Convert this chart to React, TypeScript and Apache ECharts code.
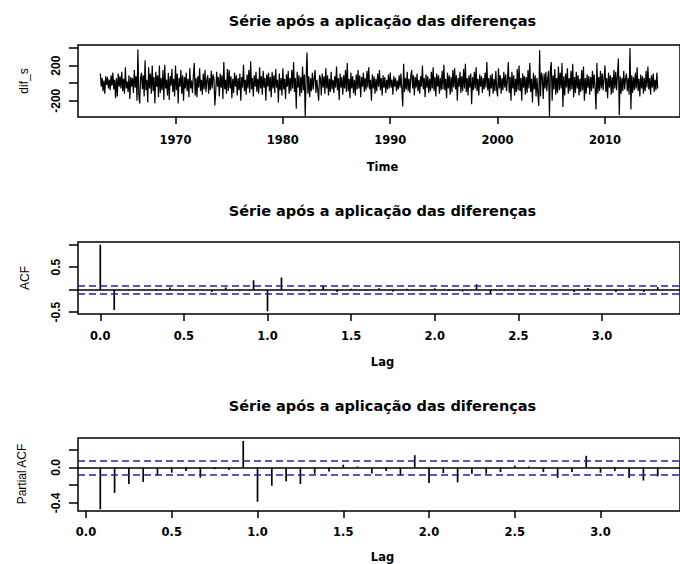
import React, { useEffect, useRef } from "react";
import * as echarts from "echarts";

// ---- Data ----
const seriesStart = 1963; // monthly series, Jan 1963 .. Dec 2014
const difS: number[] = [
  110, -40, 60, -90, 30, -120, 80, -20, 70, -60, 40, -80, // 1963
  90, -30, 120, -70, 40, -170, 60, -150, 110, -40, 80, -60, // 1964
  130, -90, 50, -120, 180, -60, 20, -100, 90, -180, 70, -40, // 1965
  60, -110, 150, -50, 80, -200, 385, -130, -230, 60, 120, -70, // 1966
  90, -150, 260, -80, 40, -220, 180, -60, 110, -120, 200, -90, // 1967
  70, -230, 130, -40, 90, -160, 200, -110, 60, -80, 150, -190, // 1968
  210, -60, 40, -140, 120, -190, 80, -30, 160, -100, 50, -150, // 1969
  200, -80, 110, -230, 60, -40, 150, -120, 90, -200, 70, -60, // 1970
  120, -90, 50, -160, 170, -60, 30, -110, 90, 230, -140, 60, // 1971
  -160, 80, -50, 170, -90, 40, -130, 110, -70, 150, -100, 30, // 1972
  90, -120, 60, -80, 140, -60, 100, 50, -255, -90, 130, -40, // 1973
  70, -150, 110, -50, 90, -180, 240, -70, 40, -120, 160, -90, // 1974
  150, -60, 80, -170, 50, -110, 120, -40, 90, -140, 60, -80, // 1975
  110, -200, 70, -50, 210, -90, 40, -130, 100, -60, 150, -110, // 1976
  250, -70, 60, -150, 90, -40, 130, -100, 50, -120, 180, -60, // 1977
  80, -130, 140, -50, 60, -200, 100, -40, 120, -90, 70, -160, // 1978
  130, -60, 90, -110, 160, -50, 40, -220, 110, -80, 60, -140, // 1979
  170, -70, 50, -180, 100, -40, 140, -120, 60, -90, 150, -60, // 1980
  240, -100, 60, -290, 130, -50, 90, -150, 70, -110, 190, -80, // 1981
  100, -375, 60, 350, -120, 80, -160, 60, -90, 120, -70, 50, // 1982
  150, -110, 40, -80, -200, 90, 60, -140, 110, -50, 80, -120, // 1983
  170, -60, 90, -140, 50, -100, 130, -70, 40, -110, 80, -50, // 1984
  190, -80, 60, -190, 110, -50, 70, -130, 90, -60, 150, -100, // 1985
  230, -90, 50, -170, 120, -60, 80, -110, 40, -140, 100, -70, // 1986
  150, -60, 90, -160, 70, -40, 120, -100, 60, -80, 140, -50, // 1987
  180, -70, 40, -200, 100, -60, 80, -120, 50, -90, 110, -40, // 1988
  150, -80, 60, -140, 90, -50, 70, -110, 40, -70, 100, -60, // 1989
  120, -50, 40, -130, 80, -40, 60, -90, 30, -70, 90, -50, // 1990
  110, -80, -265, 220, -100, 60, -70, 130, -90, 50, -110, 80, // 1991
  150, -60, 90, -140, 70, -50, 110, -90, 40, -120, 80, -40, // 1992
  200, -70, 60, -160, 100, -50, 80, -110, 50, -90, 130, -60, // 1993
  180, -90, 70, -150, 110, -40, 90, -120, 60, -80, 140, -70, // 1994
  210, -80, 50, -170, 120, -60, 90, -130, 70, -100, 150, -50, // 1995
  170, -70, 90, -200, 60, -40, 130, -110, 80, -90, 160, -60, // 1996
  220, -100, 60, -140, 90, -50, 110, -240, 70, -80, 130, -60, // 1997
  180, -90, 50, -140, 100, -40, 80, -110, 60, -70, 120, -50, // 1998
  240, -80, 60, -150, 90, -60, 110, -120, 50, -90, 140, -70, // 1999
  -150, 170, -60, 90, -120, 60, -80, 130, -50, 100, -90, 40, // 2000
  240, -110, 70, -200, 130, -60, 90, -140, 50, -100, 160, -80, // 2001
  200, -90, 60, -200, 110, -50, 80, -130, 70, -110, 150, -60, // 2002
  230, -100, 50, -220, 120, -70, 90, -150, 60, -120, -260, 375, // 2003
  -150, 120, 70, -180, 110, -60, 130, -90, 50, 140, -375, 150, // 2004
  240, -200, 90, -70, 160, -130, 60, -110, 190, -80, 120, -60, // 2005
  230, -270, 80, -140, 110, -50, 170, -120, 60, -90, 140, -70, // 2006
  220, -160, 70, -110, 130, -60, 90, -140, 50, -100, 150, -80, // 2007
  190, -200, 60, -120, 100, -50, 80, -130, 70, -90, 140, -60, // 2008
  100, -60, -300, 230, -120, 70, -90, 140, -60, 110, -80, 50, // 2009
  200, -100, 60, -170, 120, -50, 90, -130, 70, -110, 150, -60, // 2010
  130, -80, 90, 280, -365, 80, -120, 60, -90, 140, -70, 50, // 2011
  110, -90, 60, -130, 400, -300, 90, -110, 70, -80, 120, -60, // 2012
  180, -90, 50, -150, 100, -60, 80, -120, 60, -90, 140, -50, // 2013
  190, -70, 60, -130, 90, -50, 110, -100, 40, -80, 120, -60, // 2014
];

// ACF at lags 0..40 (months; plotted in years = k/12)
const acfValues: number[] = [
  1.0, -0.45, -0.01, 0.0, -0.02, 0.05, -0.01, 0.01, -0.05, 0.05, -0.02, 0.21,
  -0.48, 0.27, 0.0, -0.04, 0.1, -0.05, 0.02, -0.01, 0.03, -0.04, 0.02, -0.02,
  0.03, -0.02, -0.04, 0.12, -0.1, -0.02, 0.02, -0.02, 0.01, -0.01, -0.05, 0.04,
  -0.02, -0.05, 0.03, -0.05, 0.06,
];
// PACF at lags 1..40
const pacfValues: number[] = [
  -0.47, -0.286, -0.187, -0.164, -0.09, -0.06, -0.04, -0.114, -0.02, -0.03,
  0.297, -0.385, -0.206, -0.156, -0.187, -0.072, -0.046, 0.03, 0.01, -0.07,
  -0.04, -0.09, 0.137, -0.175, -0.065, -0.168, -0.072, -0.072, -0.053, 0.02,
  0.01, -0.053, -0.118, -0.053, 0.13, -0.06, -0.04, -0.118, -0.148, -0.1,
];
const confLimit = 0.0785;

const timeTicks = [1970, 1980, 1990, 2000, 2010];
const lagTicks = [0, 0.5, 1.0, 1.5, 2.0, 2.5, 3.0];
const tsYTicks = [-200, 0, 200, 400];
const tsYLabels = [-200, 200];
const acfYTicks = [-0.5, 0, 0.5, 1.0];
const acfYLabels = [-0.5, 0.5];
const pacfYTicks = [-0.4, -0.2, 0, 0.2];
const pacfYLabels = [-0.4, 0];

const titleText = "Série após a aplicação das diferenças";

const WIDE = "'DejaVu Sans', sans-serif";
const ARIAL = "'Liberation Sans', Arial, sans-serif";
const BLUE = "#2020a8";

export default function App() {
  const ref = useRef<HTMLDivElement>(null);

  useEffect(() => {
    if (!ref.current) return;
    const chart = echarts.init(ref.current, null, { renderer: "svg" });

    const tsData = difS.map((v, i) => [seriesStart + i / 12, v]);
    const acfData = acfValues.map((v, k) => [k / 12, v]);
    const pacfData = pacfValues.map((v, k) => [(k + 1) / 12, v]);

    const gridCommon = {
      show: true,
      borderColor: "#000",
      borderWidth: 1.5,
      backgroundColor: "transparent",
      containLabel: false,
    };

    const xAxisOf = (gridIndex: number, min: number, max: number, ticks: number[], margin: number, fmt: (v: number) => string) => ({
      type: "value",
      gridIndex,
      min,
      max,
      axisLine: { show: false, onZero: false },
      splitLine: { show: false },
      axisTick: { show: true, length: 7, customValues: ticks, lineStyle: { color: "#000", width: 1.5 } },
      axisLabel: {
        show: true,
        customValues: ticks,
        margin,
        color: "#000",
        fontFamily: WIDE,
        fontWeight: "bold",
        fontSize: 11.5,
        formatter: fmt,
      },
    });

    const yAxisOf = (gridIndex: number, min: number, max: number, ticks: number[], labels: number[], fmt: (v: number) => string) => ({
      type: "value",
      gridIndex,
      min,
      max,
      axisLine: { show: false, onZero: false },
      splitLine: { show: false },
      axisTick: { show: true, length: 9, customValues: ticks, lineStyle: { color: "#000", width: 1.5 } },
      axisLabel: {
        show: true,
        customValues: labels,
        rotate: 90,
        margin: 16,
        color: "#000",
        fontFamily: ARIAL,
        fontWeight: "bold",
        fontSize: 12,
        formatter: fmt,
      },
    });

    const stemRender = (params: any, api: any) => {
      const x = api.value(0);
      const y = api.value(1);
      const p0 = api.coord([x, 0]);
      const p1 = api.coord([x, y]);
      return {
        type: "line",
        shape: { x1: p0[0], y1: p0[1], x2: p1[0], y2: p1[1] },
        style: { stroke: "#000", lineWidth: 1.7 },
      };
    };

    const refLines = {
      silent: true,
      symbol: ["none", "none"],
      label: { show: false },
      animation: false,
      data: [
        { yAxis: 0, lineStyle: { color: "#000", width: 1.5, type: "solid" } },
        { yAxis: confLimit, lineStyle: { color: BLUE, width: 1.5, type: [7, 4] } },
        { yAxis: -confLimit, lineStyle: { color: BLUE, width: 1.5, type: [7, 4] } },
      ],
    };

    const textEl = (text: string, x: number, y: number, font: string, rotation = 0) => ({
      type: "text",
      x,
      y,
      rotation,
      style: { text, font, fill: "#000", align: "center", verticalAlign: "middle" },
    });

    const titleFont = `bold 14.5px ${WIDE}`;
    const xNameFont = `bold 11.5px ${WIDE}`;
    const yNameFont = `12px ${ARIAL}`;

    chart.setOption({
      animation: false,
      backgroundColor: "#fff",
      grid: [
        { ...gridCommon, left: 78, right: -7, top: 45, height: 72 },
        { ...gridCommon, left: 78, right: -7, top: 242, height: 72 },
        { ...gridCommon, left: 78, right: -7, top: 438, height: 73 },
      ],
      xAxis: [
        xAxisOf(0, 1960.92, 2016.99, timeTicks, 17, (v) => String(v)),
        xAxisOf(1, -0.1333, 3.4667, lagTicks, 16, (v) => v.toFixed(1)),
        xAxisOf(2, -0.0467, 3.4633, lagTicks, 15, (v) => v.toFixed(1)),
      ],
      yAxis: [
        yAxisOf(0, -385, 435, tsYTicks, tsYLabels, (v) => String(v)),
        yAxisOf(1, -0.54, 1.06, acfYTicks, acfYLabels, (v) => v.toFixed(1)),
        yAxisOf(2, -0.49, 0.33, pacfYTicks, pacfYLabels, (v) => v.toFixed(1)),
      ],
      series: [
        {
          type: "line",
          xAxisIndex: 0,
          yAxisIndex: 0,
          data: tsData,
          showSymbol: false,
          symbol: "none",
          lineStyle: { color: "#000", width: 1.2 },
          clip: true,
        },
        {
          type: "custom",
          xAxisIndex: 1,
          yAxisIndex: 1,
          data: acfData,
          encode: { x: 0, y: 1 },
          renderItem: stemRender,
          markLine: refLines,
        },
        {
          type: "custom",
          xAxisIndex: 2,
          yAxisIndex: 2,
          data: pacfData,
          encode: { x: 0, y: 1 },
          renderItem: stemRender,
          markLine: refLines,
        },
      ],
      graphic: [
        textEl(titleText, 382.5, 21, titleFont),
        textEl(titleText, 382.5, 211, titleFont),
        textEl(titleText, 382.5, 406, titleFont),
        textEl("Time", 382.5, 167, xNameFont),
        textEl("Lag", 382.5, 362, xNameFont),
        textEl("Lag", 382.5, 557, xNameFont),
        textEl("dif_s", 24, 81, yNameFont, Math.PI / 2),
        textEl("ACF", 25, 278, yNameFont, Math.PI / 2),
        textEl("Partial ACF", 22, 474, yNameFont, Math.PI / 2),
      ],
    });

    return () => chart.dispose();
  }, []);

  return (
    <div
      ref={ref}
      style={{ position: "absolute", left: 0, top: 0, width: 680, height: 564, background: "#fff" }}
    />
  );
}
